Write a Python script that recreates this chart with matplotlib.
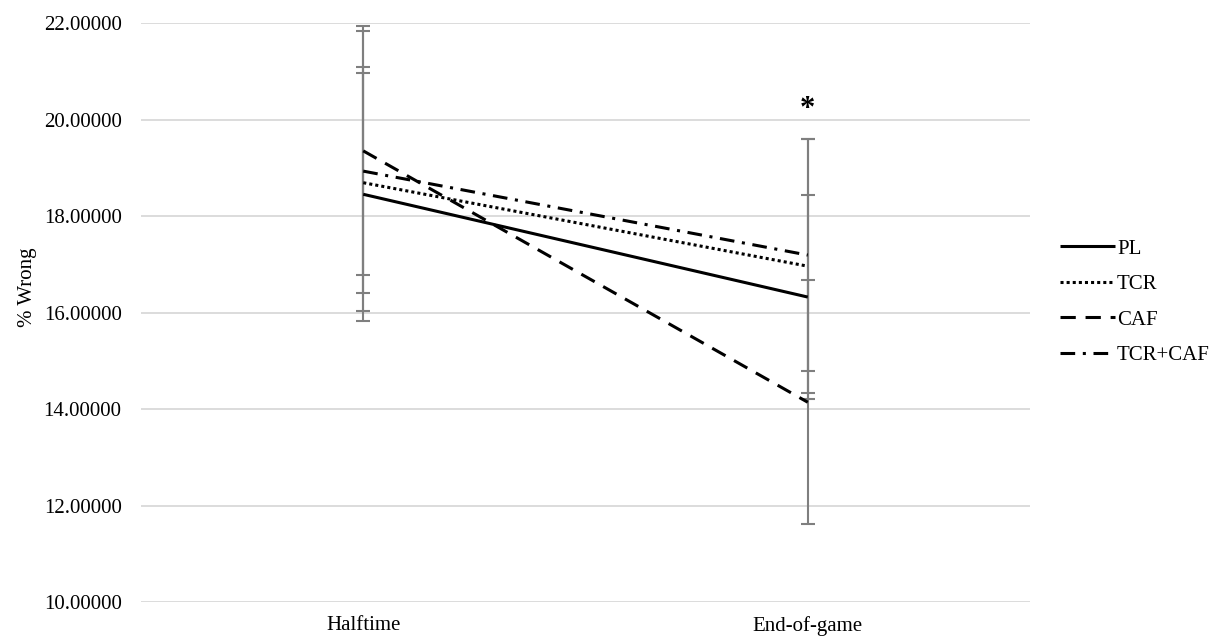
import matplotlib
matplotlib.use('Agg')
import matplotlib.pyplot as plt

plt.rcParams['font.family'] = ['Liberation Serif', 'DejaVu Serif']

phases = ['Halftime', 'End-of-game']
groups = ['PL', 'TCR', 'CAF', 'TCR+CAF']
means = {
    'PL':      [18.45, 16.32],
    'TCR':     [18.69, 16.96],
    'CAF':     [19.35, 14.14],
    'TCR+CAF': [18.93, 17.19],
}
errs = {
    'PL':      [2.63, 2.12],
    'TCR':     [2.28, 2.63],
    'CAF':     [2.58, 2.53],
    'TCR+CAF': [2.90, 2.41],
}
star_y = 20.2

# dash patterns in units of line width
styles = {
    'PL':      (0, ()),
    'TCR':     (0, (1, 1)),
    'CAF':     (0, (5, 3.2)),
    'TCR+CAF': (0, (4.8, 2.5, 1, 2.5)),
}

fig = plt.figure(figsize=(12.25, 6.44), dpi=100)
ax = fig.add_axes([141 / 1225, 1 - 602 / 644, (1030 - 141) / 1225, (602 - 23) / 644])
xs = list(range(len(phases)))

for g in groups:
    ax.errorbar(xs, means[g], yerr=errs[g], fmt='none', ecolor='#7f7f7f',
                elinewidth=1.5, capsize=5, capthick=1.5, zorder=2)
for g in groups:
    ax.plot(xs, means[g], color='black', lw=2.2, linestyle=styles[g],
            dash_capstyle='butt', label=g, zorder=3)

ax.text(1, star_y, '*', ha='center', va='center', fontsize=22, fontweight='bold')

ax.set_xlim(-0.5, 1.5)
ax.set_ylim(10, 22)
ax.set_yticks([10, 12, 14, 16, 18, 20, 22])
ax.set_yticklabels([f'{v:.5f}' for v in [10, 12, 14, 16, 18, 20, 22]])
ax.set_xticks(xs)
ax.set_xticklabels(phases)
ax.tick_params(length=0, labelsize=15, colors='black', pad=14)
ax.tick_params(axis='x', pad=10)
ax.grid(axis='y', color='#d9d9d9', lw=1.3)
ax.set_axisbelow(True)
for s in ax.spines.values():
    s.set_visible(False)
ax.set_ylabel('% Wrong', fontsize=15)
ax.yaxis.set_label_coords(-0.117, 0.543)

fig.legend(loc='center left', bbox_to_anchor=(1041 / 1225, 1 - 302 / 644),
           frameon=False, fontsize=15, handlelength=2.65, handletextpad=0.1,
           labelspacing=0.76)

fig.savefig('out.png', dpi=100)
